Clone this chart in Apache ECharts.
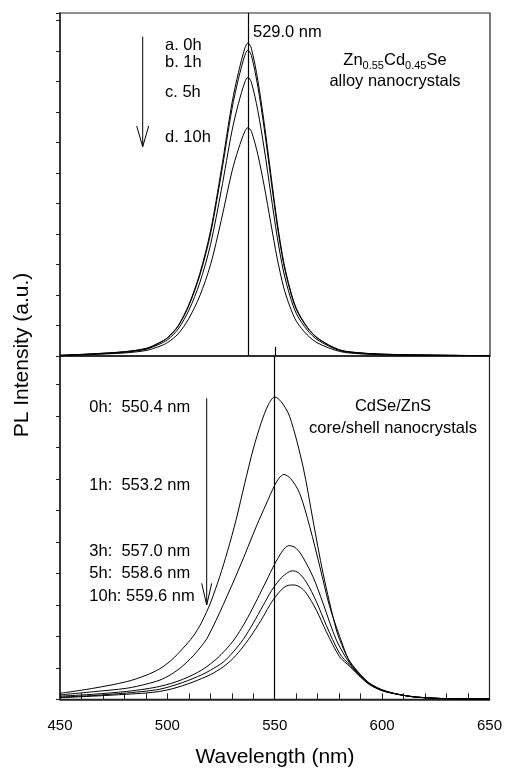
<!DOCTYPE html>
<html>
<head>
<meta charset="utf-8">
<script src="https://cdn.jsdelivr.net/npm/echarts@6/dist/echarts.min.js"></script>
<style>
  html, body { margin: 0; padding: 0; background: #fff; }
  #chart { width: 505px; height: 768px; }
</style>
</head>
<body>
<div id="chart"></div>
<script>
// upper panel: Zn0.55Cd0.45Se alloy
var alloyWl = [450, 465, 480, 490, 496, 500, 505, 510, 515, 520, 525, 530, 533, 536, 537.4, 539, 542, 545, 548, 551, 554, 557, 560, 565, 570, 580, 590, 600, 620, 650];
var alloy0h = [0.02, 0.07, 0.14, 0.25, 0.43, 0.6, 1.0, 1.7, 2.7, 4.1, 6.1, 8.3, 9.3, 10.1, 10.27, 10.09, 9.05, 7.63, 6.0, 4.4, 3.1, 2.2, 1.55, 0.95, 0.58, 0.2, 0.1, 0.06, 0.03, 0.01];
var alloy1h = [0.02, 0.07, 0.14, 0.24, 0.42, 0.59, 0.98, 1.66, 2.64, 4.0, 5.96, 8.11, 9.09, 9.87, 10.03, 9.86, 8.84, 7.45, 5.86, 4.3, 3.03, 2.15, 1.51, 0.93, 0.57, 0.2, 0.1, 0.06, 0.03, 0.01];
var alloy5h = [0.02, 0.06, 0.12, 0.22, 0.38, 0.53, 0.89, 1.51, 2.4, 3.65, 5.43, 7.39, 8.28, 8.99, 9.14, 8.98, 8.05, 6.79, 5.34, 3.92, 2.76, 1.96, 1.38, 0.85, 0.52, 0.18, 0.09, 0.05, 0.03, 0.01];
var alloy10h = [0.01, 0.05, 0.1, 0.18, 0.31, 0.44, 0.73, 1.24, 1.97, 2.99, 4.45, 6.06, 6.79, 7.37, 7.49, 7.37, 6.61, 5.57, 4.38, 3.21, 2.26, 1.61, 1.13, 0.69, 0.42, 0.15, 0.07, 0.04, 0.02, 0.01];
var alloyPeak = 537.4;

// lower panel: CdSe/ZnS core/shell
var cs0hX = [450, 465.5, 481, 490, 496.5, 502, 507, 512, 516, 520, 524.4, 528, 532, 536, 540, 543.8, 547, 550, 553, 557, 563.2, 567.8, 572.5, 578.7, 582, 585, 590, 594, 600, 608, 616, 630, 650];
var cs0hY = [0.19, 0.35, 0.56, 0.76, 0.97, 1.25, 1.6, 2.0, 2.45, 3.05, 3.9, 4.7, 5.7, 6.85, 7.95, 8.8, 9.35, 9.6, 9.45, 8.97, 7.38, 5.69, 4.0, 2.2, 1.6, 1.2, 0.78, 0.52, 0.3, 0.15, 0.07, 0.02, 0.01];
var cs1hX = [450, 465.5, 481, 490, 496.5, 502, 507, 512, 516, 519, 526, 533.7, 541.5, 546, 550, 552, 554.2, 557.5, 561.6, 566.3, 571, 575.6, 581.8, 585, 590, 594, 600, 608, 616, 630, 650];
var cs1hY = [0.14, 0.24, 0.35, 0.48, 0.61, 0.8, 1.05, 1.38, 1.7, 2.0, 3.0, 4.2, 5.5, 6.2, 6.8, 7.02, 7.14, 7.0, 6.54, 5.48, 4.21, 2.94, 1.7, 1.18, 0.77, 0.51, 0.3, 0.15, 0.07, 0.02, 0.01];
var cs3hX = [450, 465.5, 481, 490, 496.5, 502, 507, 512, 516, 520, 525, 530.6, 534.5, 538.4, 542, 546.1, 550, 553, 555, 556.7, 559, 561, 563.2, 567.8, 572.5, 578.7, 585, 590, 594, 600, 608, 616, 630, 650];
var cs3hY = [0.1, 0.16, 0.25, 0.33, 0.41, 0.51, 0.63, 0.78, 0.93, 1.12, 1.42, 1.85, 2.25, 2.72, 3.2, 3.76, 4.3, 4.65, 4.82, 4.88, 4.84, 4.72, 4.5, 3.89, 3.05, 1.88, 1.13, 0.74, 0.5, 0.29, 0.15, 0.07, 0.02, 0.01];
var cs5hX = [450, 465.5, 481, 490, 496.5, 502, 507, 512, 516, 520, 526, 530.6, 535.3, 540, 544.6, 548.5, 552.3, 555.5, 558.2, 561, 564.7, 569.4, 574, 580.2, 585, 590, 594, 600, 608, 616, 630, 650];
var cs5hY = [0.07, 0.12, 0.2, 0.26, 0.32, 0.42, 0.53, 0.66, 0.78, 0.92, 1.18, 1.5, 1.9, 2.42, 2.98, 3.45, 3.8, 4.0, 4.08, 4.02, 3.72, 3.1, 2.35, 1.46, 1.08, 0.72, 0.49, 0.28, 0.15, 0.07, 0.02, 0.01];
var cs10hX = [450, 465.5, 481, 490, 496.5, 502, 507, 512, 516, 520, 526, 530.6, 535.3, 540, 544.6, 548.5, 552.3, 555.5, 559.1, 562, 564.7, 569.4, 574, 580.2, 585, 590, 594, 600, 608, 616, 630, 650];
var cs10hY = [0.05, 0.1, 0.16, 0.2, 0.25, 0.33, 0.43, 0.55, 0.66, 0.78, 1.03, 1.3, 1.67, 2.12, 2.62, 3.08, 3.42, 3.6, 3.63, 3.55, 3.37, 2.83, 2.15, 1.35, 1.04, 0.7, 0.47, 0.27, 0.15, 0.07, 0.02, 0.01];
var corePeak = 550;

var xTicks = [450, 500, 550, 600, 650];
var alloyLabels = ['a. 0h', 'b. 1h', 'c. 5h', 'd. 10h'];
var coreLabels = ['0h:  550.4 nm', '1h:  553.2 nm', '3h:  557.0 nm', '5h:  558.6 nm', '10h: 559.6 nm'];

var FONT = 'Liberation Sans, Arial, sans-serif';

function pairs(xs, ys) {
    return xs.map(function (x, i) { return [x, ys[i]]; });
}

function curve(name, data, idx, mark) {
    var s = {
        name: name,
        type: 'line',
        xAxisIndex: idx,
        yAxisIndex: idx,
        data: data,
        smooth: 0.3,
        showSymbol: false,
        silent: true,
        lineStyle: {color: '#000', width: 1}
    };
    if (mark) {
        s.markLine = {
            silent: true,
            symbol: 'none',
            label: {show: false},
            lineStyle: {color: '#000', width: 1.2, type: 'solid'},
            data: mark
        };
    }
    return s;
}

function yAx(idx, max) {
    return {
        type: 'value', gridIndex: idx, min: 0, max: max, interval: 1,
        axisLine: {show: true, lineStyle: {color: '#222', width: 1.5}},
        axisTick: {show: true, inside: false, length: 4, lineStyle: {color: '#222'}},
        axisLabel: {show: false},
        splitLine: {show: false}
    };
}

function txt(text, x, y, size, align) {
    return {
        type: 'text', x: x, y: y, silent: true,
        style: {
            text: text, font: size + 'px ' + FONT, fill: '#000',
            textAlign: align || 'left', textVerticalAlign: 'middle',
            align: align || 'left', verticalAlign: 'middle'
        }
    };
}

var graphics = [];
// labels of upper panel
graphics.push(txt('529.0 nm', 253, 32, 16.5));
var alloyY = [45.7, 62.7, 92.3, 137.3];
alloyLabels.forEach(function (t, i) { graphics.push(txt(t, 165, alloyY[i], 16.5)); });
graphics.push({
    type: 'text', x: 395, y: 60, silent: true,
    style: {
        text: '{n|Zn}{s|0.55}{n|Cd}{s|0.45}{n|Se}',
        textAlign: 'center', textVerticalAlign: 'middle', align: 'center', verticalAlign: 'middle',
        fill: '#000',
        rich: {
            n: {fontSize: 16.5, fontFamily: FONT, lineHeight: 22, fill: '#000', verticalAlign: 'middle'},
            s: {fontSize: 11, fontFamily: FONT, lineHeight: 11, fill: '#000', verticalAlign: 'bottom'}
        }
    }
});
graphics.push(txt('alloy nanocrystals', 395, 81.7, 16.5, 'center'));
// labels of lower panel
var coreY = [407.3, 485, 551.7, 573.3, 596];
coreLabels.forEach(function (t, i) { graphics.push(txt(t, 89.3, coreY[i], 16.5)); });
graphics.push(txt('CdSe/ZnS', 393, 406.7, 16.5, 'center'));
graphics.push(txt('core/shell nanocrystals', 393, 428.3, 16.5, 'center'));
// arrows
[[142.7, 36.7, 146.7, 6, 20.7], [206.7, 398.3, 605, 5, 21.7]].forEach(function (a) {
    graphics.push({type: 'line', silent: true, shape: {x1: a[0], y1: a[1], x2: a[0], y2: a[2]},
        style: {stroke: '#000', lineWidth: 1}});
    graphics.push({type: 'polyline', silent: true,
        shape: {points: [[a[0] - a[3], a[2] - a[4]], [a[0], a[2]], [a[0] + a[3], a[2] - a[4]]]},
        style: {stroke: '#000', lineWidth: 1, fill: null}});
});
// axis titles
graphics.push(txt('Wavelength (nm)', 275, 757, 21, 'center'));
graphics.push({
    type: 'text', x: 22, y: 355, rotation: Math.PI / 2, silent: true,
    style: {
        text: 'PL Intensity (a.u.)', font: '21px ' + FONT, fill: '#000',
        textAlign: 'center', textVerticalAlign: 'middle', align: 'center', verticalAlign: 'middle'
    }
});

var chart = echarts.init(document.getElementById('chart'), null, {renderer: 'canvas'});
chart.setOption({
    animation: false,
    backgroundColor: '#fff',
    grid: [
        {left: 60, top: 13, width: 430, height: 343, show: true, borderColor: '#222', borderWidth: 1.2, backgroundColor: 'transparent'},
        {left: 60, top: 356, width: 430, height: 343.3, show: true, borderColor: '#222', borderWidth: 1.2, backgroundColor: 'transparent'}
    ],
    xAxis: [
        {
            type: 'value', gridIndex: 0, min: 450, max: 650, interval: 50,
            axisLine: {show: true, lineStyle: {color: '#222', width: 1.5}},
            axisTick: {show: false}, axisLabel: {show: false}, splitLine: {show: false}
        },
        {
            type: 'value', gridIndex: 1, min: xTicks[0], max: xTicks[xTicks.length - 1], interval: 50,
            axisLine: {show: true, lineStyle: {color: '#222', width: 1.5}},
            axisTick: {show: true, inside: true, length: 6, lineStyle: {color: '#222'}},
            minorTick: {show: true, splitNumber: 5, length: 6, lineStyle: {color: '#222'}},
            axisLabel: {show: true, fontSize: 15, fontFamily: FONT, color: '#000', margin: 19},
            splitLine: {show: false}
        }
    ],
    yAxis: [yAx(0, 11.25), yAx(1, 10.9)],
    series: [
        // upper panel also carries the short stub of the 550 nm line poking up from below
        curve('a. 0h', pairs(alloyWl, alloy0h), 0, [
            {xAxis: alloyPeak},
            [{coord: [corePeak, 0]}, {coord: [corePeak, 0.3]}]
        ]),
        curve('b. 1h', pairs(alloyWl, alloy1h), 0),
        curve('c. 5h', pairs(alloyWl, alloy5h), 0),
        curve('d. 10h', pairs(alloyWl, alloy10h), 0),
        curve('0h', pairs(cs0hX, cs0hY), 1, [{xAxis: corePeak}]),
        curve('1h', pairs(cs1hX, cs1hY), 1),
        curve('3h', pairs(cs3hX, cs3hY), 1),
        curve('5h', pairs(cs5hX, cs5hY), 1),
        curve('10h', pairs(cs10hX, cs10hY), 1)
    ],
    graphic: graphics
});
</script>
</body>
</html>
